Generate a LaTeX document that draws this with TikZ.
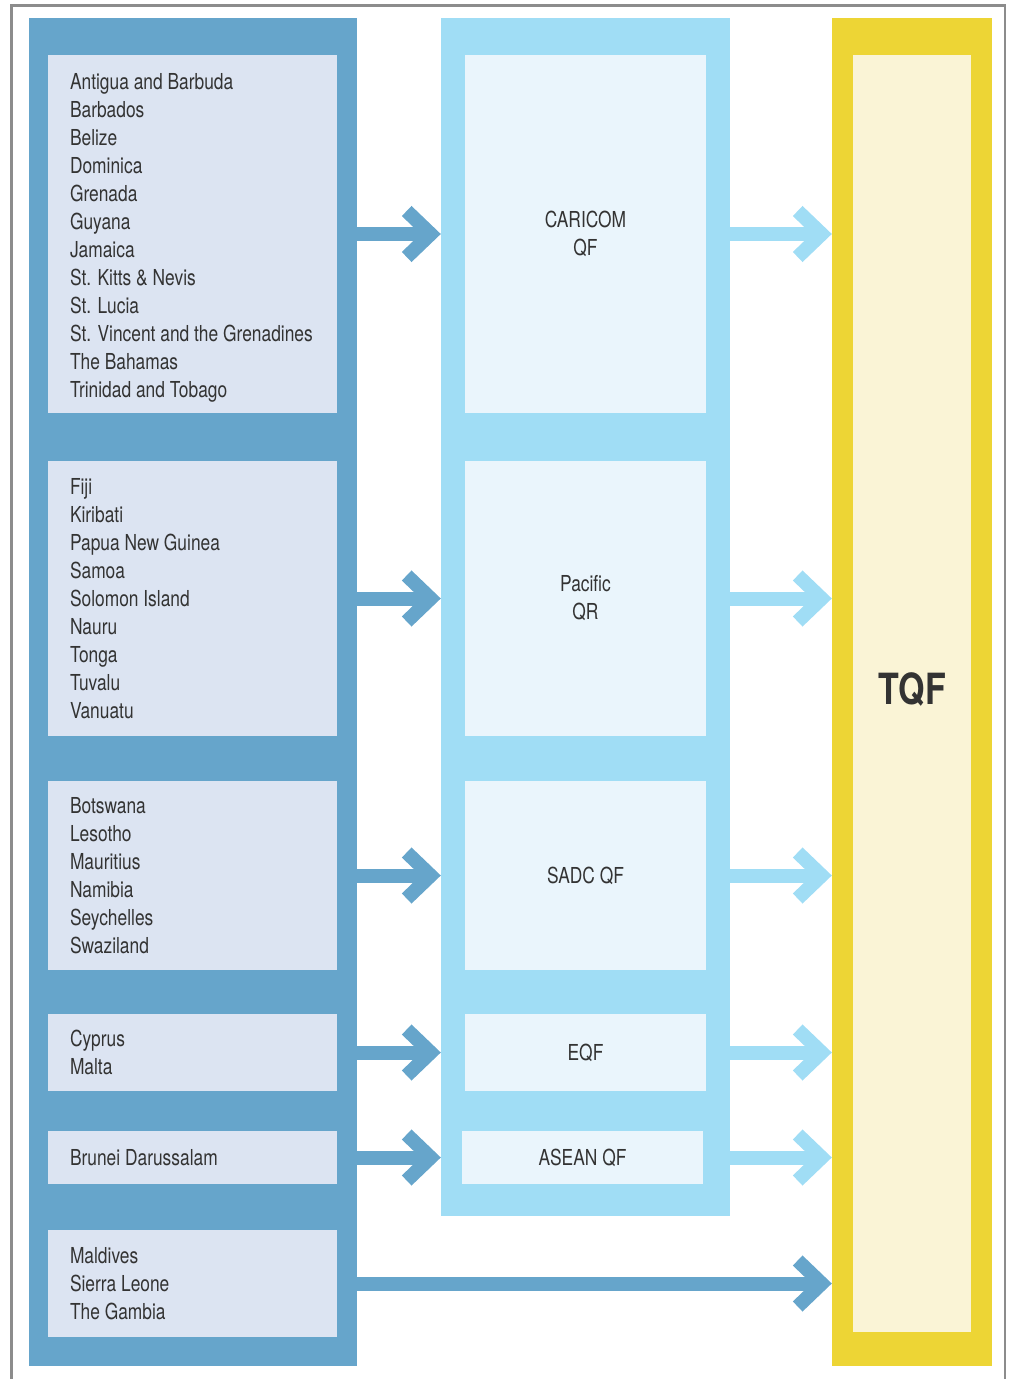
\documentclass[tikz,border=0pt]{standalone}
\usepackage{fontspec}
\setmainfont{TeX Gyre Heros}[FakeStretch=0.79]
\usetikzlibrary{arrows.meta,positioning}

\definecolor{darkblue}{HTML}{66A5CB}
\definecolor{skyblue}{HTML}{A0DDF5}
\definecolor{listgrey}{HTML}{DCE4F2}
\definecolor{paleblue}{HTML}{EAF5FC}
\definecolor{framegold}{HTML}{EDD535}
\definecolor{paleyellow}{HTML}{FAF4D6}
\definecolor{inkgrey}{HTML}{333333}
\definecolor{framegrey}{HTML}{8C8C8C}

\begin{document}
\begin{tikzpicture}[x=1pt,y=-1pt,
    every node/.style={inner sep=0pt,text=inkgrey},
    listbox/.style={fill=listgrey,minimum width=289pt},
    qfbox/.style={fill=paleblue,minimum width=241pt,align=center,
      font=\fontsize{22}{28}\selectfont},
    listtext/.style={align=left,anchor=west,font=\fontsize{22}{28}\selectfont},
    darkarrow/.style={draw=darkblue,line width=14pt,
      -{Straight Barb[length=24pt,width=46pt,sharp]}},
    lightarrow/.style={darkarrow,draw=skyblue}]
    \useasboundingbox (0,0) rectangle (1010,1379);
    \draw[framegrey,line width=2.5pt] (11.5,1379) -- (11.5,5.5) -- (1005,5.5) -- (1005,1379);

    % three columns
    \node[fill=darkblue,minimum width=328pt,minimum height=1348pt] (lcol) at (193,692) {};
    \node[fill=skyblue,minimum width=289pt,minimum height=1198pt] (mcol) at (585.5,617) {};
    \node[fill=framegold,minimum width=160pt,minimum height=1348pt] (rcol) at (912,692) {};
    \node[fill=paleyellow,minimum width=118pt,minimum height=1277pt] (tqf) at (912,693.5) {};
    \node[font=\bfseries\fontsize{43}{43}\selectfont] (tqflabel) at (912,689) {TQF};

    % country lists
    \node[listbox,minimum height=358pt] (l1) at (192.5,234) {};
    \node[listtext,right=22pt of l1.west,yshift=-4pt] (c1) {Antigua and Barbuda\\Barbados\\Belize\\Dominica\\Grenada\\Guyana\\Jamaica\\St. Kitts \& Nevis\\St. Lucia\\St. Vincent and the Grenadines\\The Bahamas\\Trinidad and Tobago};
    \node[listbox,minimum height=275pt] (l2) at (192.5,598.5) {};
    \node[listtext,right=22pt of l2.west] (c2) {Fiji\\Kiribati\\Papua New Guinea\\Samoa\\Solomon Island\\Nauru\\Tonga\\Tuvalu\\Vanuatu};
    \node[listbox,minimum height=189pt] (l3) at (192.5,875.5) {};
    \node[listtext,right=22pt of l3.west] (c3) {Botswana\\Lesotho\\Mauritius\\Namibia\\Seychelles\\Swaziland};
    \node[listbox,minimum height=77pt] (l4) at (192.5,1052.5) {};
    \node[listtext,right=22pt of l4.west] (c4) {Cyprus\\Malta};
    \node[listbox,minimum height=53pt] (l5) at (192.5,1157.5) {};
    \node[listtext,right=22pt of l5.west] (c5) {Brunei Darussalam};
    \node[listbox,minimum height=107pt] (l6) at (192.5,1283.5) {};
    \node[listtext,right=22pt of l6.west] (c6) {Maldives\\Sierra Leone\\The Gambia};

    % regional frameworks
    \node[qfbox,minimum height=358pt] (m1) at (585.5,234) {CARICOM\\QF};
    \node[qfbox,minimum height=275pt] (m2) at (585.5,598.5) {Pacific\\QR};
    \node[qfbox,minimum height=189pt] (m3) at (585.5,875.5) {SADC QF};
    \node[qfbox,minimum height=77pt] (m4) at (585.5,1052.5) {EQF};
    \node[qfbox,minimum height=53pt] (m5) at (582.5,1157.5) {ASEAN QF};

    \draw[darkarrow] (lcol.east |- l1) -- (mcol.west |- l1);
    \draw[darkarrow] (lcol.east |- l2) -- (mcol.west |- l2);
    \draw[darkarrow] (lcol.east |- l3) -- (mcol.west |- l3);
    \draw[darkarrow] (lcol.east |- l4) -- (mcol.west |- l4);
    \draw[darkarrow] (lcol.east |- l5) -- (mcol.west |- l5);
    \draw[darkarrow] (lcol.east |- l6) -- (rcol.west |- l6);

    \draw[lightarrow] (mcol.east |- m1) -- (rcol.west |- m1);
    \draw[lightarrow] (mcol.east |- m2) -- (rcol.west |- m2);
    \draw[lightarrow] (mcol.east |- m3) -- (rcol.west |- m3);
    \draw[lightarrow] (mcol.east |- m4) -- (rcol.west |- m4);
    \draw[lightarrow] (mcol.east |- m5) -- (rcol.west |- m5);
  \end{tikzpicture}
\end{document}
